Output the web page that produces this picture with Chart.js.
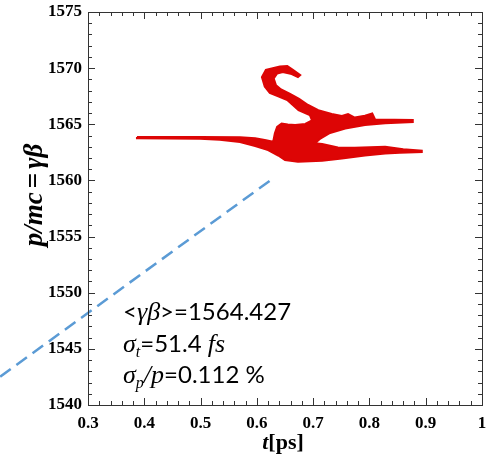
<!DOCTYPE html>
<html>
<head>
<meta charset="utf-8">
<script src="https://cdn.jsdelivr.net/npm/chart.js@4.4.0/dist/chart.umd.min.js"></script>
<style>
  html, body { margin: 0; padding: 0; background: #fff; }
</style>
</head>
<body>
<canvas id="phase-chart" width="489" height="457"></canvas>
<script>
  // axis ranges
  var tMin = 0.3, tMax = 1.0;
  var pMin = 1540, pMax = 1575;

  // outline of the particle cloud (t in ps, p in gamma*beta)
  var tCloud = [0.387, 0.499, 0.570, 0.597, 0.614, 0.629, 0.632, 0.636, 0.644, 0.655, 0.668, 0.686,
                0.698, 0.694, 0.674, 0.654, 0.638, 0.623, 0.614, 0.609, 0.616, 0.641, 0.654, 0.664,
                0.677, 0.673, 0.662, 0.646, 0.636, 0.630, 0.634, 0.643, 0.659, 0.675, 0.691, 0.709,
                0.733, 0.751, 0.762, 0.774, 0.792, 0.805, 0.810, 0.877, 0.877, 0.828, 0.792, 0.757,
                0.730, 0.712, 0.703, 0.716, 0.744, 0.774, 0.828, 0.860, 0.893, 0.893, 0.854, 0.828,
                0.792, 0.751, 0.716, 0.673, 0.650, 0.638, 0.620, 0.597, 0.570, 0.534, 0.499, 0.387];
  var pCloud = [1563.87, 1563.87, 1563.85, 1563.75, 1563.60, 1563.45, 1564.20, 1564.76, 1565.07, 1564.98, 1564.94, 1565.03,
                1565.34, 1565.83, 1566.27, 1567.16, 1567.48, 1567.79, 1568.37, 1569.21, 1569.84, 1570.15, 1570.19, 1569.84,
                1569.39, 1569.21, 1569.48, 1569.66, 1569.52, 1569.08, 1568.48, 1568.10, 1567.70, 1567.26, 1566.72, 1566.25,
                1565.92, 1565.74, 1565.90, 1565.60, 1565.76, 1565.96, 1565.43, 1565.38, 1565.20, 1565.09, 1564.94, 1564.63,
                1564.23, 1563.69, 1563.31, 1563.25, 1562.93, 1562.91, 1563.00, 1562.77, 1562.64, 1562.52, 1562.46, 1562.40,
                1562.22, 1561.95, 1561.75, 1561.67, 1561.82, 1562.22, 1562.71, 1563.07, 1563.42, 1563.62, 1563.72, 1563.76];

  // dashed reference line
  var tFit = [0.144, 0.629];
  var pFit = [1542.52, 1560.19];

  // beam numbers
  var meanGammaBeta = '1564.427';
  var sigmaT = '51.4';
  var sigmaP = '0.112';

  var sans = '"Lato", "Open Sans", sans-serif';
  var serif = '"Liberation Serif", "DejaVu Serif", serif';

  function toPoints(xs, ys) {
      var pts = [];
      for (var i = 0; i < xs.length; i++) {
          pts.push({x: xs[i], y: ys[i]});
      }
      return pts;
  }

  var cloudPoints = toPoints(tCloud, pCloud);
  cloudPoints.push({x: tCloud[0], y: pCloud[0]});

  // draws a row of text pieces with different fonts, one after the other
  function drawRuns(ctx, x, y, runs) {
      for (var i = 0; i < runs.length; i++) {
          var r = runs[i];
          ctx.font = r.font;
          ctx.fillText(r.text, x, y + (r.dy || 0));
          x += ctx.measureText(r.text).width + (r.gap || 0);
      }
  }

  function runsWidth(ctx, runs) {
      var w = 0;
      for (var i = 0; i < runs.length; i++) {
          ctx.font = runs[i].font;
          w += ctx.measureText(runs[i].text).width + (runs[i].gap || 0);
      }
      return w;
  }

  // frame with inward ticks on all four sides
  var frameTicks = {
      id: 'frameTicks',
      afterDraw: function(chart) {
          var ctx = chart.ctx;
          var a = chart.chartArea;
          var xs = chart.scales.x, ys = chart.scales.y;
          ctx.save();
          ctx.strokeStyle = '#333';
          ctx.lineWidth = 1;
          ctx.strokeRect(Math.round(a.left) + 0.5, Math.round(a.top) + 0.5,
                         Math.round(a.right - a.left), Math.round(a.bottom - a.top));
          ctx.beginPath();
          for (var i = 0; i <= 35; i++) {
              var px = Math.round(xs.getPixelForValue(tMin + i * 0.02)) + 0.5;
              var len = (i % 5 === 0) ? 7 : 4;
              ctx.moveTo(px, a.bottom); ctx.lineTo(px, a.bottom - len);
              ctx.moveTo(px, a.top); ctx.lineTo(px, a.top + len);
          }
          for (var j = 0; j <= 35; j++) {
              var py = Math.round(ys.getPixelForValue(pMin + j)) + 0.5;
              var ylen = (j % 5 === 0) ? 7 : 4;
              ctx.moveTo(a.left, py); ctx.lineTo(a.left + ylen, py);
              ctx.moveTo(a.right, py); ctx.lineTo(a.right - ylen, py);
          }
          ctx.stroke();
          ctx.restore();
      }
  };

  // axis titles and the beam numbers
  var labels = {
      id: 'labels',
      afterDraw: function(chart) {
          var ctx = chart.ctx;
          ctx.save();
          ctx.fillStyle = '#000';
          ctx.textBaseline = 'alphabetic';
          ctx.textAlign = 'left';

          // x title
          var xRuns = [
              {text: 't', font: 'italic bold 22px ' + serif},
              {text: '[ps]', font: 'bold 22px ' + serif}
          ];
          drawRuns(ctx, 283 - runsWidth(ctx, xRuns) / 2, 449, xRuns);

          // y title
          var yRuns = [
              {text: 'p/mc', font: 'italic bold 27px ' + serif, gap: 4},
              {text: '=', font: 'bold 27px ' + serif, gap: 4},
              {text: '\u03b3\u03b2', font: 'italic bold 27px ' + serif}
          ];
          ctx.translate(42, 195);
          ctx.rotate(-Math.PI / 2);
          drawRuns(ctx, -runsWidth(ctx, yRuns) / 2, 0, yRuns);
          ctx.setTransform(1, 0, 0, 1, 0, 0);

          var big = '24px ' + sans;
          var greek = 'italic 26px ' + serif;
          var sub = 'italic 16px ' + serif;
          drawRuns(ctx, 123, 320, [
              {text: '<', font: big},
              {text: '\u03b3\u03b2', font: greek},
              {text: '>=' + meanGammaBeta, font: big}
          ]);
          drawRuns(ctx, 123, 352, [
              {text: '\u03c3', font: greek},
              {text: 't', font: sub, dy: 5},
              {text: '=' + sigmaT + ' ', font: big},
              {text: 'fs', font: greek}
          ]);
          drawRuns(ctx, 123, 383, [
              {text: '\u03c3', font: greek},
              {text: 'p', font: sub, dy: 5},
              {text: '/', font: greek},
              {text: 'p', font: greek},
              {text: '=' + sigmaP + ' %', font: big}
          ]);
          ctx.restore();
      }
  };

  var tickFont = {family: serif, size: 17, weight: 'bold'};

  var chartConfig = {
      type: 'scatter',
      data: {
          datasets: [{
              data: cloudPoints,
              showLine: true,
              fill: 'shape',
              tension: 0,
              borderColor: '#dd0505',
              backgroundColor: '#dd0505',
              borderWidth: 2,
              pointRadius: 0
          }, {
              data: toPoints(tFit, pFit),
              showLine: true,
              fill: false,
              clip: false,
              borderColor: '#5b9bd5',
              borderWidth: 2.5,
              borderDash: [13, 7],
              pointRadius: 0
          }]
      },
      options: {
          responsive: false,
          animation: false,
          layout: {
              padding: {left: 0, top: 12, right: 7, bottom: 0}
          },
          plugins: {
              legend: {display: false},
              tooltip: {enabled: false}
          },
          scales: {
              x: {
                  type: 'linear',
                  min: tMin,
                  max: tMax,
                  grid: {display: false, drawTicks: false},
                  border: {display: false},
                  ticks: {
                      stepSize: 0.1,
                      padding: 8,
                      color: '#000',
                      font: tickFont,
                      maxRotation: 0,
                      callback: function(v) { return String(parseFloat(v.toFixed(1))); }
                  },
                  afterFit: function(scale) {
                      scale.height = 52;
                      scale.paddingLeft = 0;
                      scale.paddingRight = 0;
                  }
              },
              y: {
                  type: 'linear',
                  min: pMin,
                  max: pMax,
                  grid: {display: false, drawTicks: false},
                  border: {display: false},
                  ticks: {
                      stepSize: 5,
                      padding: 6,
                      color: '#000',
                      font: tickFont,
                      callback: function(v) { return String(v); }
                  },
                  afterFit: function(scale) {
                      scale.width = 88;
                      scale.paddingTop = 0;
                      scale.paddingBottom = 0;
                  }
              }
          }
      },
      plugins: [frameTicks, labels]
  };

  window.onload = function() {
      var ctx = document.getElementById('phase-chart').getContext('2d');
      window.phaseChart = new Chart(ctx, chartConfig);
  };
</script>
</body>
</html>
